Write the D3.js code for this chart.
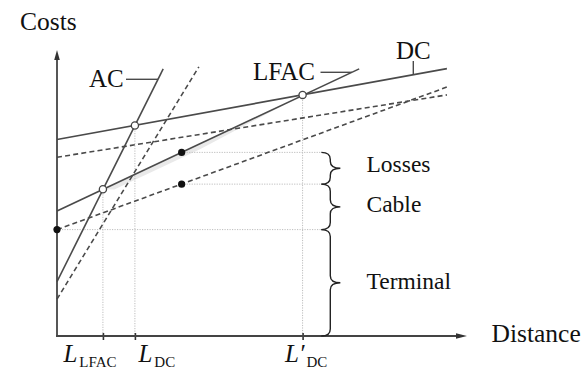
<!DOCTYPE html>
<html>
<head>
<meta charset="utf-8">
<script src="https://cdn.jsdelivr.net/npm/d3@7"></script>
<style>
  html, body { margin: 0; padding: 0; background: #fff; }
  svg { display: block; }
  text { font-family: "Liberation Serif", "Times New Roman", serif; fill: #111; }
</style>
</head>
<body>
<svg id="chart" width="587" height="369"></svg>
<script>
// ---------------- data ----------------
const distTicks = [11.2, 19.0, 59.9];
const tickMain = ["L", "L", "L′"];
const tickSub = ["LFAC", "DC", "DC"];

// total cost lines (solid) [distance, cost]
const acTotal = [[0, 19.0], [25.9, 93.4]];
const lfacTotal = [[0, 43.7], [73.7, 93.4]];
const dcTotal = [[0, 68.7], [95.1, 93.5]];
// cost lines without losses (dashed)
const acNoLoss = [[0, 12.9], [34.6, 94.1]];
const lfacNoLoss = [[0, 37.2], [95.4, 87.2]];
const dcNoLoss = [[0, 62.5], [95.1, 84.3]];

const crossings = [[11.2, 51.3], [19.0, 73.6], [59.9, 84.3]];
const markers = [[0, 37.2], [30.4, 64.2], [30.4, 53.1]];
const shade = [[11.2, 51.3], [59.9, 84.3], [35, 65.4], [14, 51.2]];

const braceNames = ["Losses", "Cable", "Terminal"];
const braceTop = [64.2, 53.1, 37.2];
const braceBottom = [53.1, 37.2, 0];
const guideEnd = 64.6;

const lineLabels = ["AC", "LFAC", "DC"];

// ---------------- layout ----------------
const svg = d3.select("#chart");
const x = d3.scaleLinear().domain([0, 100]).range([57, 467]);
const y = d3.scaleLinear().domain([0, 100]).range([336, 50]);
const ink = "#4a4a4a";
const line = d3.line().x(d => x(d[0])).y(d => y(d[1]));

// shading
svg.append("path").attr("d", line(shade) + "Z").attr("fill", "#e9e9e9").attr("stroke", "none");

// dotted guides
const guides = svg.append("g").attr("stroke", "#bdbdbd").attr("stroke-width", 1).attr("stroke-dasharray", "1.2,1.3").attr("fill", "none");
crossings.forEach(p => {
  guides.append("line").attr("x1", x(p[0])).attr("x2", x(p[0])).attr("y1", y(p[1])).attr("y2", y(0));
});
markers.forEach(p => {
  guides.append("line").attr("x1", x(p[0])).attr("x2", x(guideEnd)).attr("y1", y(p[1])).attr("y2", y(p[1]));
});

// dashed lines
[acNoLoss, lfacNoLoss, dcNoLoss].forEach(l => {
  svg.append("path").attr("d", line(l)).attr("fill", "none").attr("stroke", ink)
    .attr("stroke-width", 1.6).attr("stroke-dasharray", "5,3.2");
});
// solid lines
[acTotal, lfacTotal, dcTotal].forEach(l => {
  svg.append("path").attr("d", line(l)).attr("fill", "none").attr("stroke", ink).attr("stroke-width", 1.6);
});

// axes
const xAxis = d3.axisBottom(x).tickValues(distTicks).tickFormat("").tickSizeOuter(0).tickSizeInner(4);
const gx = svg.append("g").attr("transform", `translate(0,${y(0)})`).call(xAxis);
gx.select(".domain").remove();
gx.selectAll(".tick line").attr("y1", -3).attr("y2", 4).attr("stroke", "#333").attr("stroke-width", 1.6);
const yAxis = d3.axisLeft(y).tickValues([]).tickSizeOuter(0);
const gy = svg.append("g").attr("transform", `translate(${x(0)},0)`).call(yAxis);
gy.select(".domain").remove();

svg.append("line").attr("x1", x(0)).attr("x2", x(0)).attr("y1", y(0) + 1).attr("y2", y(100) + 6)
  .attr("stroke", "#444").attr("stroke-width", 1.8);
svg.append("line").attr("x1", x(0) - 1).attr("x2", x(100) - 8).attr("y1", y(0)).attr("y2", y(0))
  .attr("stroke", "#444").attr("stroke-width", 1.8);
svg.append("path").attr("d", `M${x(0)},${y(100)} L${x(0) - 2.8},${y(100) + 10} L${x(0) + 2.8},${y(100) + 10} Z`).attr("fill", "#333");
svg.append("path").attr("d", `M${x(100)},${y(0)} L${x(100) - 11},${y(0) - 2.8} L${x(100) - 11},${y(0) + 2.8} Z`).attr("fill", "#333");

// tick labels
const labelDx = [-40, 3, -18];
gx.selectAll(".tick").each(function (d, i) {
  const t = d3.select(this).append("text").attr("x", labelDx[i])
    .attr("y", 25.5).attr("text-anchor", "start").attr("fill", "#111").attr("font-size", 25);
  t.append("tspan").attr("font-style", "italic").text(tickMain[i]);
  t.append("tspan").attr("font-size", 15).attr("dx", 2).attr("dy", 5.5).text(tickSub[i]);
});

// crossing circles and markers
svg.selectAll("circle.open").data(crossings).enter().append("circle").attr("class", "open")
  .attr("cx", d => x(d[0])).attr("cy", d => y(d[1])).attr("r", 3.6)
  .attr("fill", "#fff").attr("stroke", "#444").attr("stroke-width", 1.3);
svg.selectAll("circle.dot").data(markers).enter().append("circle").attr("class", "dot")
  .attr("cx", d => x(d[0])).attr("cy", d => y(d[1])).attr("r", 3.6).attr("fill", "#111");

// braces
function bracePath(x0, yT, yB, w) {
  const xm = x0 + w * 0.47, xt = x0 + w, ym = (yT + yB) / 2, r = Math.min(7, (yB - yT) / 4);
  return `M${x0},${yT} Q${xm},${yT} ${xm},${yT + r} L${xm},${ym - r} Q${xm},${ym} ${xt},${ym} ` +
    `Q${xm},${ym} ${xm},${ym + r} L${xm},${yB - r} Q${xm},${yB} ${x0},${yB}`;
}
const braceX = x(guideEnd) - 0.5, braceW = 19;
braceNames.forEach((n, i) => {
  svg.append("path").attr("d", bracePath(braceX, y(braceTop[i]), y(braceBottom[i]), braceW))
    .attr("fill", "none").attr("stroke", "#222").attr("stroke-width", 1.4);
});
const braceLabelY = [172, 211.5, 289];
braceNames.forEach((n, i) => {
  svg.append("text").attr("x", 366.5).attr("y", braceLabelY[i]).attr("font-size", 23.5).text(n);
});

// line labels with leaders
function atCost(l, c) { return l[0][0] + (l[1][0] - l[0][0]) * (c - l[0][1]) / (l[1][1] - l[0][1]); }
function atDist(l, d) { return l[0][1] + (l[1][1] - l[0][1]) * (d - l[0][0]) / (l[1][0] - l[0][0]); }
const leader = svg.append("g").attr("stroke", ink).attr("stroke-width", 1.4);
// AC
const acY = 79.3;
leader.append("line").attr("x1", 126).attr("x2", x(atCost(acTotal, y.invert(acY)))).attr("y1", acY).attr("y2", acY);
svg.append("text").attr("x", 89).attr("y", 87).attr("font-size", 25).text(lineLabels[0]);
// LFAC
const lfY = 72.3;
leader.append("line").attr("x1", 320.5).attr("x2", x(atCost(lfacTotal, y.invert(lfY)))).attr("y1", lfY).attr("y2", lfY);
svg.append("text").attr("x", 253).attr("y", 80).attr("font-size", 25).text(lineLabels[1]);
// DC
const dcX = 413.3;
leader.append("line").attr("x1", dcX).attr("x2", dcX).attr("y1", 61).attr("y2", y(atDist(dcTotal, x.invert(dcX))));
svg.append("text").attr("x", 413.3).attr("y", 58.5).attr("font-size", 25).attr("text-anchor", "middle").text(lineLabels[2]);

// axis titles
svg.append("text").attr("x", 20).attr("y", 29.5).attr("font-size", 25.5).text("Costs");
svg.append("text").attr("x", 491.5).attr("y", 341.5).attr("font-size", 25.5).text("Distance");
</script>
</body>
</html>
